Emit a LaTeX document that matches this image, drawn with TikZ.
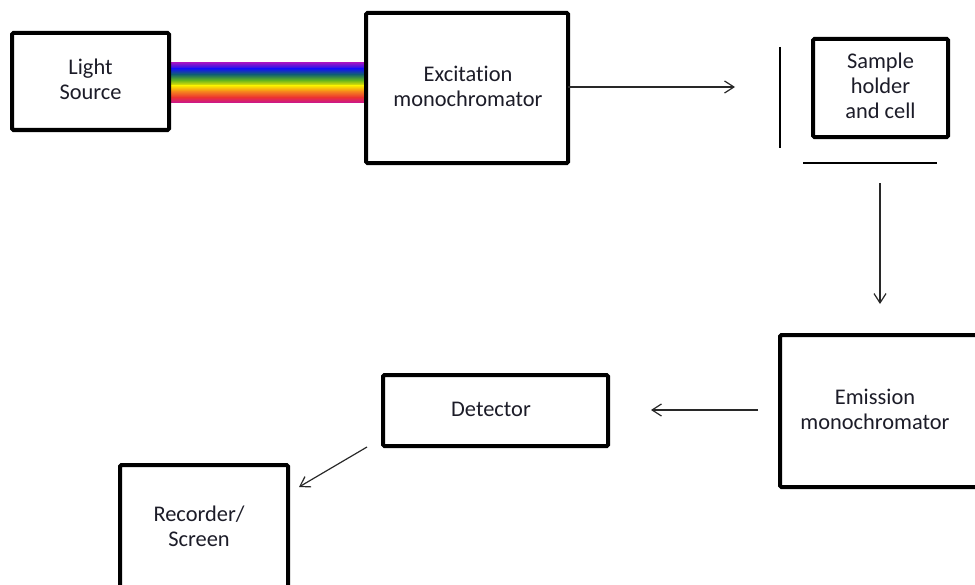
\documentclass[tikz,border=0pt]{standalone}
\usepackage{fontspec}
\setmainfont[Ligatures=CommonOff]{Carlito}
\usetikzlibrary{arrows.meta}
\definecolor{txt}{RGB}{28,28,40}
\definecolor{ln}{RGB}{40,40,40}
\definecolor{rb1}{RGB}{150,20,200}
\definecolor{rb2}{RGB}{20,20,240}
\definecolor{rb3}{RGB}{20,100,110}
\definecolor{rb4}{RGB}{100,180,30}
\definecolor{rb5}{RGB}{250,232,0}
\definecolor{rb6}{RGB}{245,130,30}
\definecolor{rb7}{RGB}{235,50,50}
\definecolor{rb8}{RGB}{200,20,150}
\tikzset{
  lbl/.style={text=txt, font=\fontsize{16.8}{18.75}\selectfont, align=center},
  blk/.style={draw=black, line width=3pt, rounded corners=1pt, fill=white, inner sep=0pt},
  arr/.style={draw=ln, line width=0.9pt, -{Straight Barb[length=7pt,width=9pt]}},
  bar/.style={draw=black, line width=0.9pt}
}
\begin{document}
\begin{tikzpicture}[x=0.75pt,y=-0.75pt]
\useasboundingbox (0,0) rectangle (975,585);
% rainbow band
\shade[top color=rb1, bottom color=rb2] (169,63) rectangle (366,68.7);
\shade[top color=rb2, bottom color=rb3] (169,68.7) rectangle (366,74.4);
\shade[top color=rb3, bottom color=rb4] (169,74.4) rectangle (366,80.1);
\shade[top color=rb4, bottom color=rb5] (169,80.1) rectangle (366,85.8);
\shade[top color=rb5, bottom color=rb6] (169,85.8) rectangle (366,91.5);
\shade[top color=rb6, bottom color=rb7] (169,91.5) rectangle (366,97.2);
\shade[top color=rb7, bottom color=rb8] (169,97.2) rectangle (366,103);

\node[blk, minimum width=157*0.75pt, minimum height=97*0.75pt] (light) at (90.5,81.5) {};
\node[lbl] (lighttxt) at (90.5,79.5) {Light\\Source};
\node[blk, minimum width=202*0.75pt, minimum height=150*0.75pt] (exc) at (467,88) {};
\node[lbl] (exctxt) at (468,86) {Excitation\\monochromator};
\node[blk, minimum width=135*0.75pt, minimum height=98*0.75pt] (sample) at (880.5,88) {};
\node[lbl] (sampletxt) at (880.5,86) {Sample\\holder\\and cell};
\node[blk, minimum width=200*0.75pt, minimum height=152*0.75pt] (emi) at (880,411) {};
\node[lbl] (emitxt) at (875,409) {Emission\\monochromator};
\node[blk, minimum width=225*0.75pt, minimum height=71*0.75pt] (det) at (495.5,410.5) {};
\node[lbl] (dettxt) at (491,409.5) {Detector};
\node[blk, minimum width=168*0.75pt, minimum height=125*0.75pt] (rec) at (204,527.5) {};
\node[lbl] (rectxt) at (199,526) {Recorder/\\Screen};

% holder bars
\coordinate (v1) at (780,47);
\coordinate (v2) at (780,148);
\coordinate (h1) at (803,163);
\coordinate (h2) at (937,163);
\draw[bar] (v1) -- (v2);
\draw[bar] (h1) -- (h2);

% arrows
\coordinate (a1s) at (568,87);
\coordinate (a1e) at (735,87);
\draw[arr] (a1s) -- (a1e);
\coordinate (a2s) at (880,183);
\coordinate (a2e) at (880,304);
\draw[arr] (a2s) -- (a2e);
\coordinate (a3s) at (758,410);
\coordinate (a3e) at (651,410);
\draw[arr] (a3s) -- (a3e);
\coordinate (a4s) at (367,447);
\coordinate (a4e) at (299,487);
\draw[arr] (a4s) -- (a4e);
\end{tikzpicture}
\end{document}
